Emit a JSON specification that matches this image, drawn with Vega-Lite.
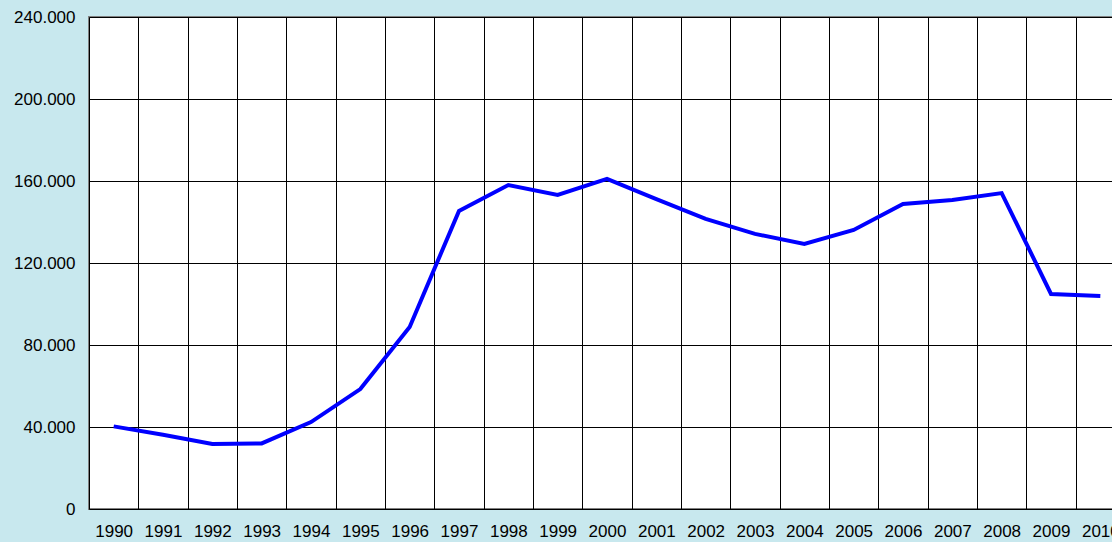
{
  "$schema": "https://vega.github.io/schema/vega-lite/v6.json",
  "width": 1036,
  "height": 492,
  "autosize": {"type": "none"},
  "padding": {"left": 89, "top": 17, "right": 0, "bottom": 33},
  "background": "#C8E8EE",
  "config": {
    "view": {"fill": "white", "stroke": "#808080", "strokeWidth": 2},
    "axis": {"labelFont": "Liberation Sans", "labelFontSize": 17, "labelColor": "black", "gridColor": "black", "gridOpacity": 1, "gridWidth": 1, "domain": false, "ticks": false, "title": null}
  },
  "data": {
    "values": [
      {"year": "1990", "value": 40.3},
      {"year": "1991", "value": 36.2},
      {"year": "1992", "value": 31.7},
      {"year": "1993", "value": 32.0},
      {"year": "1994", "value": 42.4},
      {"year": "1995", "value": 58.5},
      {"year": "1996", "value": 88.8},
      {"year": "1997", "value": 145.4},
      {"year": "1998", "value": 158.0},
      {"year": "1999", "value": 153.2},
      {"year": "2000", "value": 161.0},
      {"year": "2001", "value": 151.2},
      {"year": "2002", "value": 141.5},
      {"year": "2003", "value": 134.2},
      {"year": "2004", "value": 129.3},
      {"year": "2005", "value": 136.1},
      {"year": "2006", "value": 148.8},
      {"year": "2007", "value": 150.7},
      {"year": "2008", "value": 154.1},
      {"year": "2009", "value": 104.9},
      {"year": "2010", "value": 103.9}
    ]
  },
  "mark": {"type": "line", "color": "#0000FF", "strokeWidth": 4, "strokeJoin": "miter"},
  "encoding": {
    "x": {
      "field": "year", "type": "ordinal",
      "scale": {"type": "band", "paddingInner": 0, "paddingOuter": 0},
      "axis": {"labelAngle": 0, "tickBand": "extent", "grid": true, "labelPadding": 14, "labelBaseline": "top"}
    },
    "y": {
      "field": "value", "type": "quantitative",
      "scale": {"domain": [0, 240], "nice": false},
      "axis": {"values": [0, 40, 80, 120, 160, 200, 240], "labelExpr": "datum.value == 0 ? '0' : format(datum.value, '.3f')", "labelPadding": 14, "grid": true}
    }
  }
}
